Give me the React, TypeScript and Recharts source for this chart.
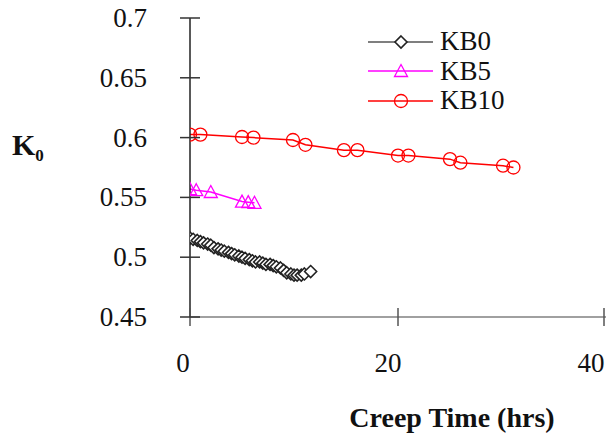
import React from "react";
import { LineChart, Line, XAxis, YAxis } from "recharts";

// creep time (hrs) and K0 readings per specimen
const kb0Hours = [0, 0.3, 0.7, 1.0, 1.3, 1.7, 2.0, 2.3, 2.7, 3.0, 3.3, 3.7, 4.0, 4.3, 4.7, 5.0, 5.3, 5.7, 6.0, 6.3, 6.7, 7.0, 7.3, 7.7, 8.0, 8.3, 8.7, 9.0, 9.3, 9.7, 10.0, 10.3, 10.7, 11.0, 11.6];
const kb0K = [0.516, 0.515, 0.514, 0.513, 0.512, 0.511, 0.51, 0.508, 0.507, 0.506, 0.505, 0.504, 0.503, 0.502, 0.501, 0.5, 0.499, 0.498, 0.497, 0.496, 0.496, 0.495, 0.494, 0.494, 0.493, 0.492, 0.491, 0.489, 0.487, 0.486, 0.485, 0.485, 0.485, 0.486, 0.488];

const kb5Hours = [0, 0.6, 2.0, 5.0, 5.6, 6.2];
const kb5K = [0.557, 0.556, 0.5545, 0.5465, 0.546, 0.5455];

const kb10Hours = [0, 1.0, 5.0, 6.1, 9.9, 11.1, 14.8, 16.1, 20.0, 21.0, 25.0, 26.0, 30.1, 31.1];
const kb10K = [0.6025, 0.6025, 0.6005, 0.6, 0.598, 0.594, 0.5895, 0.5895, 0.585, 0.585, 0.582, 0.579, 0.5765, 0.575];

const xTicks = [0, 20, 40];
const yTicks = [0.45, 0.5, 0.55, 0.6, 0.65, 0.7];

const FONT = "'Liberation Serif', 'DejaVu Serif', serif";

const toRows = (hours: number[], k: number[]) => hours.map((t, i) => ({ t, k: k[i] }));

const kb0 = toRows(kb0Hours, kb0K);
const kb5 = toRows(kb5Hours, kb5K);
const kb10 = toRows(kb10Hours, kb10K);

const Diamond = ({ cx, cy, stroke }: any) => (
  <path
    d={`M${cx},${cy - 6} L${cx + 6},${cy} L${cx},${cy + 6} L${cx - 6},${cy} Z`}
    fill="#fff"
    stroke={stroke}
    strokeWidth={1.6}
  />
);

const Triangle = ({ cx, cy, stroke }: any) => (
  <path
    d={`M${cx},${cy - 6.5} L${cx + 6.5},${cy + 5.5} L${cx - 6.5},${cy + 5.5} Z`}
    fill="none"
    stroke={stroke}
    strokeWidth={1.3}
  />
);

const Circle = ({ cx, cy, stroke }: any) => (
  <circle cx={cx} cy={cy} r={6.5} fill="none" stroke={stroke} strokeWidth={1.3} />
);

const series = [
  { name: "KB0", data: kb0, color: "#222222", line: "#555555", Shape: Diamond },
  { name: "KB5", data: kb5, color: "#ff00ff", line: "#ff00ff", Shape: Triangle },
  { name: "KB10", data: kb10, color: "#ff0000", line: "#ff0000", Shape: Circle },
];

const YTick = ({ x, y, payload }: any) => (
  <g>
    <line x1={x - 10} x2={x + 10} y1={y} y2={y} stroke="#333" strokeWidth={1.5} />
    <text x={x - 43} y={y + 9} textAnchor="end" fontFamily={FONT} fontSize={27} fill="#111">
      {payload.value}
    </text>
  </g>
);

// labels in the source drift left a little more towards the right end
const XTick = ({ x, y, payload }: any) => (
  <g>
    <line x1={x} x2={x} y1={y - 9} y2={y + 9} stroke="#555" strokeWidth={1.5} />
    <text x={x - 7 - payload.value * 0.15} y={y + 55} textAnchor="middle" fontFamily={FONT} fontSize={27} fill="#111">
      {payload.value}
    </text>
  </g>
);

const ChartLegend = () => (
  <div style={{ position: "absolute", left: 368, top: 27, fontFamily: FONT, fontSize: 27, color: "#111" }}>
    {series.map((s) => (
      <div key={s.name} style={{ display: "flex", alignItems: "center", height: 29.5 }}>
        <svg width={72} height={20} style={{ display: "block" }}>
          <line x1={0} x2={65} y1={10} y2={10} stroke={s.line} strokeWidth={1.5} />
          <s.Shape cx={33} cy={10} stroke={s.color} />
        </svg>
        <span style={{ lineHeight: "29.5px" }}>{s.name}</span>
      </div>
    ))}
  </div>
);

export default function App() {
  return (
    <div style={{ position: "absolute", left: 0, top: 0, width: 612, height: 439, background: "#fff" }}>
      <LineChart width={612} height={439} margin={{ top: 18, right: 6, bottom: 62, left: 0 }}>
        <XAxis
          type="number"
          dataKey="t"
          domain={[0, 40]}
          ticks={xTicks}
          allowDataOverflow
          height={60}
          tickSize={0}
          tickMargin={0}
          tickLine={false}
          axisLine={{ stroke: "#808080", strokeWidth: 1.5 }}
          tick={<XTick />}
        />
        <YAxis
          type="number"
          dataKey="k"
          domain={[0.45, 0.7]}
          ticks={yTicks}
          allowDataOverflow
          width={190}
          tickSize={0}
          tickMargin={0}
          tickLine={false}
          axisLine={{ stroke: "#222", strokeWidth: 1.5 }}
          tick={<YTick />}
        />
        {series.map((s) => (
          <Line
            key={s.name}
            name={s.name}
            data={s.data}
            dataKey="k"
            type="linear"
            stroke={s.line}
            strokeWidth={1.5}
            dot={(p: any) => <s.Shape key={`${s.name}-${p.index}`} cx={p.cx} cy={p.cy} stroke={s.color} />}
            isAnimationActive={false}
          />
        ))}
      </LineChart>
      <ChartLegend />
      <div style={{ position: "absolute", left: 12, top: 128, fontFamily: FONT, fontWeight: "bold", fontSize: 30, color: "#111" }}>
        K<sub style={{ fontSize: 17, verticalAlign: "-6px" }}>0</sub>
      </div>
      <div
        style={{
          position: "absolute",
          left: 300,
          width: 304,
          top: 402,
          textAlign: "center",
          fontFamily: FONT,
          fontWeight: "bold",
          fontSize: 28,
          color: "#111",
        }}
      >
        Creep Time (hrs)
      </div>
    </div>
  );
}
